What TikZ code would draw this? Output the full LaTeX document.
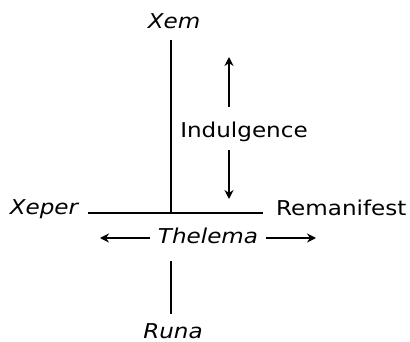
\documentclass[tikz,border=0pt]{standalone}
\usepackage{fontspec}
\setmainfont[FakeStretch=1.13]{DejaVu Sans}
\usetikzlibrary{arrows.meta}
\begin{document}
\begin{tikzpicture}[x=1bp,y=1bp,
  lbl/.style={inner sep=0pt,font=\fontsize{20.5}{22}\selectfont},
  ilbl/.style={lbl,font=\fontsize{20.5}{22}\selectfont\itshape},
  ln/.style={line width=2bp},
  arr/.style={line width=2bp,-{Stealth[length=9bp,width=9bp]}}]
\useasboundingbox (0,0) rectangle (410,342);
\node[ilbl,anchor=base] (xem) at (174,314) {Xem};
\node[lbl,anchor=base] (indul) at (244,205) {Indulgence};
\node[ilbl,anchor=base] (xeper) at (44,128) {Xeper};
\node[lbl,anchor=base west] (reman) at (276,127) {Remanifest};
\node[ilbl,anchor=base] (thelema) at (208,99) {Thelema};
\node[ilbl,anchor=base] (runa) at (173,4) {Runa};
\coordinate (vtop) at (171,302);
\coordinate (j) at (171,129);
\coordinate (hl) at (88,129);
\coordinate (hr) at (263,129);
\coordinate (ua) at (229,235);
\coordinate (ub) at (229,285);
\coordinate (da) at (229,192);
\coordinate (db) at (229,143);
\coordinate (la) at (150,104);
\coordinate (lb) at (100,104);
\coordinate (ra) at (266,104);
\coordinate (rb) at (316,104);
\coordinate (rt) at (171,81);
\coordinate (rbm) at (171,28);
\draw[ln] (vtop) -- (j);
\draw[ln] (hl) -- (hr);
\draw[ln] (rt) -- (rbm);
\draw[arr] (ua) -- (ub);
\draw[arr] (da) -- (db);
\draw[arr] (la) -- (lb);
\draw[arr] (ra) -- (rb);
\end{tikzpicture}
\end{document}
